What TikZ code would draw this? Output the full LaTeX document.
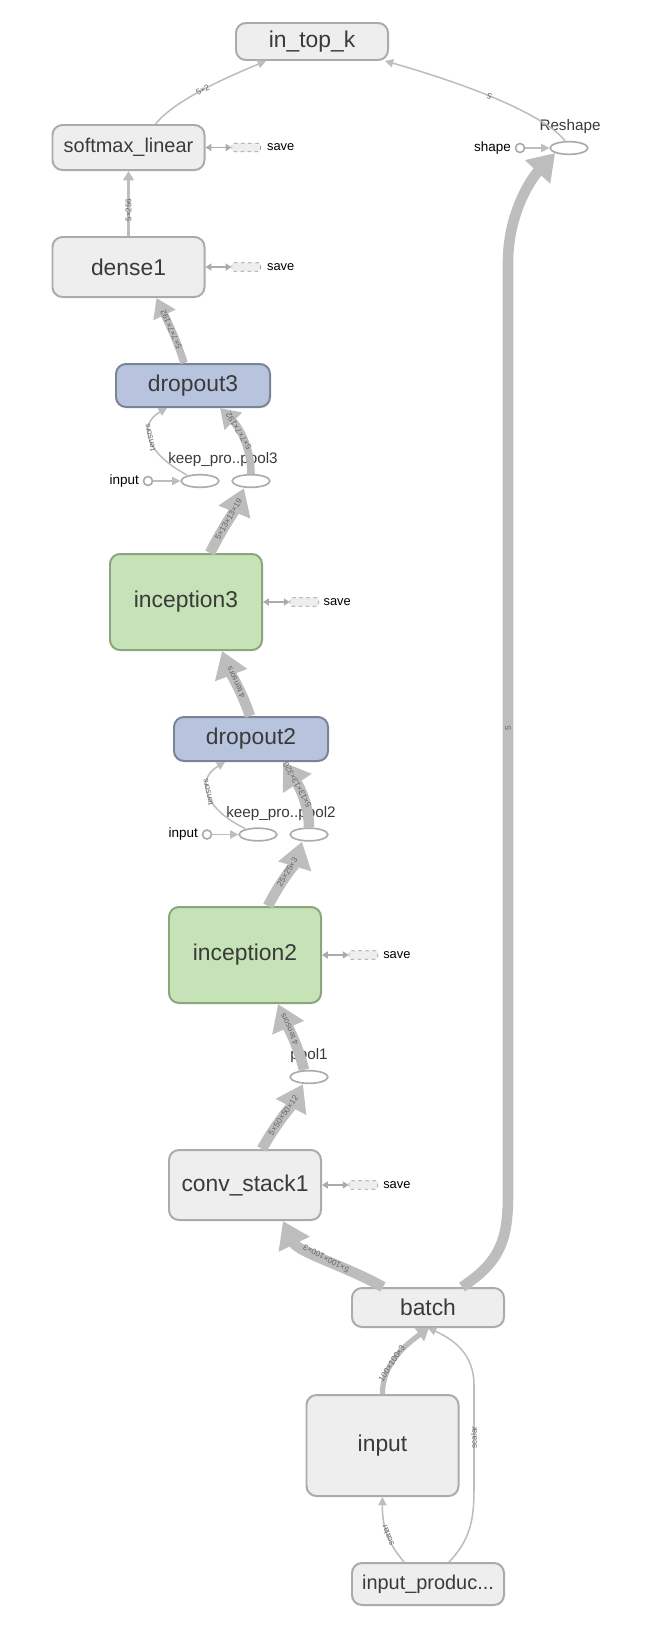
\documentclass[tikz,border=0pt]{standalone}
\usepackage{fontspec}
\setmainfont{Liberation Sans}
\usepackage{tikz}
\usetikzlibrary{shapes.geometric, arrows.meta, positioning, calc}

\definecolor{opfill}{HTML}{EEEEEE}
\definecolor{opline}{HTML}{ABABAB}
\definecolor{dropfill}{HTML}{B8C4DE}
\definecolor{dropline}{HTML}{7B8497}
\definecolor{incfill}{HTML}{C6E2B7}
\definecolor{incline}{HTML}{8BA57C}
\definecolor{edgecol}{HTML}{BDBDBD}
\definecolor{labelcol}{HTML}{3A3A3A}

\tikzstyle{meta} = [rectangle, rounded corners=0.3cm, minimum width=4.56cm, text centered, draw=opline, fill=opfill, line width=1.7pt, text=labelcol, font=\fontsize{19.5}{22}\selectfont]
\tikzstyle{dropbox} = [meta, minimum width=4.62cm, draw=dropline, fill=dropfill]
\tikzstyle{incbox} = [meta, draw=incline, fill=incfill]
\tikzstyle{opnode} = [ellipse, minimum width=1.13cm, minimum height=0.38cm, inner sep=0pt, draw=opline, fill=white, line width=1.4pt]
\tikzstyle{inport} = [circle, minimum size=0.27cm, inner sep=0pt, draw=opline, fill=white, line width=1.4pt]
\tikzstyle{oplabel} = [text=labelcol, font=\fontsize{13}{15}\selectfont, inner sep=0pt]
\tikzstyle{portlabel} = [font=\fontsize{11.5}{13}\selectfont, inner sep=0pt]
\tikzstyle{savebox} = [rectangle, rounded corners=1.5pt, minimum width=0.86cm, minimum height=0.26cm, inner sep=0pt, draw=black!40, dashed, fill=opfill, line width=0.6pt]
\tikzstyle{savetext} = [font=\fontsize{11}{13}\selectfont, inner sep=0pt]
\tikzstyle{saveline} = [draw=opline, line width=1.4pt, {Triangle[length=5pt,width=6pt]}-{Triangle[length=5pt,width=6pt]}]
\tikzstyle{edgethin} = [draw=edgecol, line width=1.3pt, -{Triangle[length=7pt,width=7pt]}]
\tikzstyle{edgewire} = [draw=edgecol, line width=2.6pt, -{Triangle[length=8pt,width=9pt]}]
\tikzstyle{edgesmall} = [draw=edgecol, line width=4.5pt, -{Triangle[length=10pt,width=13pt]}]
\tikzstyle{edgemid} = [draw=edgecol, line width=6.5pt, -{Triangle[length=16pt,width=20pt]}]
\tikzstyle{edgebig} = [draw=edgecol, line width=9pt, -{Triangle[length=22pt,width=28pt]}]
\tikzstyle{elabel} = [font=\fontsize{7}{8}\selectfont, text=black!60, sloped, allow upside down, inner sep=0.5pt]

\begin{document}
\begin{tikzpicture}[x=0.03cm, y=-0.03cm]
\useasboundingbox (0,0) rectangle (655,1647);

% Output layers
\node (intopk) [meta, minimum height=1.11cm] at (312,41.5) {in\_top\_k};
\node (softmax) [meta, minimum height=1.35cm, font=\fontsize{17}{20}\selectfont] at (128.5,147.5) {softmax\_linear};
\node (dense) [meta, minimum height=1.8cm] at (128.5,267) {dense1};

% Reshape
\node (reshape) [opnode] at (569,148) {};
\node (reshapelbl) [oplabel] at (570,127) {Reshape};
\node (shapein) [inport] at (520,148) {};
\node (shapelbl) [portlabel, left=3pt of shapein] {shape};

% Dropout 3
\node (dropthree) [dropbox, minimum height=1.29cm] at (193,385.5) {dropout3};
\node (keepthree) [opnode] at (200,481) {};
\node (poolthree) [opnode] at (251,481) {};
\node (keepthreein) [inport] at (148,481) {};
\node (keepthreelbl) [portlabel, left=3pt of keepthreein] {input};
\node (threelbl) [oplabel] at (223,460) {keep\_pro..pool3};

% Inception 3
\node (incthree) [incbox, minimum height=2.88cm] at (186,602) {inception3};

% Dropout 2
\node (droptwo) [dropbox, minimum height=1.32cm] at (251,739) {dropout2};
\node (keeptwo) [opnode] at (258,834.5) {};
\node (pooltwo) [opnode] at (309,834.5) {};
\node (keeptwoin) [inport] at (207,834.5) {};
\node (keeptwolbl) [portlabel, left=3pt of keeptwoin] {input};
\node (twolbl) [oplabel] at (281,813.5) {keep\_pro..pool2};

% Inception 2 and first stack
\node (inctwo) [incbox, minimum height=2.88cm] at (245,955) {inception2};
\node (poolone) [opnode] at (309,1077) {};
\node (poolonelbl) [oplabel] at (309,1056) {pool1};
\node (conv) [meta, minimum height=2.1cm] at (245,1185) {conv\_stack1};

% Input pipeline
\node (batch) [meta, minimum height=1.17cm] at (428,1307.5) {batch};
\node (input) [meta, minimum height=3.03cm] at (382.5,1445.5) {input};
\node (producer) [meta, minimum height=1.26cm, font=\fontsize{17}{20}\selectfont] at (428,1584) {input\_produc...};

% Save nodes
\node (softsave) [savebox, right=0.78cm of softmax] {};
\node (softsavetxt) [savetext, right=0.18cm of softsave] {save};
\node (densesave) [savebox, right=0.78cm of dense] {};
\node (densesavetxt) [savetext, right=0.18cm of densesave] {save};
\node (incthreesave) [savebox, right=0.8cm of incthree] {};
\node (incthreesavetxt) [savetext, right=0.13cm of incthreesave] {save};
\node (inctwosave) [savebox, right=0.8cm of inctwo] {};
\node (inctwosavetxt) [savetext, right=0.15cm of inctwosave] {save};
\node (convsave) [savebox, right=0.8cm of conv] {};
\node (convsavetxt) [savetext, right=0.15cm of convsave] {save};

\draw [saveline] (softmax) -- (softsave);
\draw [saveline] (dense) -- (densesave);
\draw [saveline] (incthree) -- (incthreesave);
\draw [saveline] (inctwo) -- (inctwosave);
\draw [saveline] (conv) -- (convsave);

% Port arrows
\draw [edgethin] (shapein) -- (reshape);
\draw [edgethin] (keepthreein) -- (keepthree);
\draw [edgethin] (keeptwoin) -- (keeptwo);

% Edges
\draw [edgewire] (dense) -- node[elabel, pos=0.4] {5×256} (softmax);
\draw [edgethin] ($(softmax.north)+(27,0)$) .. controls (175,100) and (225,78) .. node[elabel] {5×2} ($(intopk.south)+(-46,0)$);
\draw [edgethin] ($(reshape.north)+(-4,0)$) .. controls (545,115) and (470,85) .. node[elabel, pos=0.55] {5} ($(intopk.south east)+(-4,0)$);
\draw [edgebig] ($(batch.north)+(34,0)$) .. controls (500,1262) and (508,1240) .. (508,1195) -- node[elabel] {5} (508,262) .. controls (508,215) and (530,180) .. (reshape.south west);
\draw [edgebig] ($(batch.north)+(-45,0)$) .. controls (350,1268) and (298,1252) .. node[elabel] {5×100×100×3} ($(conv.south)+(38,0)$);
\draw [edgebig] ($(conv.north)+(17,0)$) .. controls (275,1125) and (292,1105) .. node[elabel] {5×50×50×12} ($(poolone.south)+(-6,0)$);
\draw [edgebig] ($(poolone.north)+(-5,0)$) .. controls (298,1045) and (287,1025) .. node[elabel, pos=0.6] {4 tensors} ($(inctwo.south)+(33,0)$);
\draw [edgebig] ($(inctwo.north)+(23,0)$) .. controls (280,882) and (296,862) .. node[elabel] {25×25×3} ($(pooltwo.south)+(-7,0)$);
\draw [edgebig] (pooltwo.north) .. controls (309,800) and (295,780) .. node[elabel, pos=0.6] {5×13×13×320} ($(droptwo.south)+(32,0)$);
\draw [edgethin] ($(keeptwo.north)+(-13,1)$) .. controls (208,811) and (193,781) .. node[elabel, pos=0.55] {tensors} ($(droptwo.south)+(-26,0)$);
\draw [edgebig] ($(droptwo.north)+(-1,0)$) .. controls (242,692) and (230,672) .. node[elabel] {4 tensors} ($(incthree.south)+(36,0)$);
\draw [edgebig] ($(incthree.north)+(24,0)$) .. controls (222,529) and (236,508) .. node[elabel] {5×13×13×19} ($(poolthree.south)+(-7,0)$);
\draw [edgemid] (poolthree.north) .. controls (251,446) and (238,426) .. node[elabel, pos=0.6] {5×7×7×192} ($(dropthree.south)+(27,0)$);
\draw [edgethin] ($(keepthree.north)+(-13,1)$) .. controls (150,456) and (135,426) .. node[elabel, pos=0.55] {tensors} ($(dropthree.south)+(-26,0)$);
\draw [edgemid] ($(dropthree.north)+(-9,0)$) .. controls (177,340) and (166,318) .. node[elabel] {5×7×7×192} ($(dense.south)+(28,0)$);
\draw [edgesmall] (input.north) .. controls (382,1365) and (405,1345) .. node[elabel, pos=0.4] {100×100×3} ($(batch.south)+(1,0)$);
\draw [edgethin] ($(producer.north)+(-24,0)$) .. controls (390,1545) and (382,1530) .. node[elabel] {scalar} (input.south);
\draw [edgethin] ($(producer.north)+(21,0)$) .. controls (470,1540) and (474,1520) .. (474,1490) -- node[elabel] {scalar} (474,1385) .. controls (474,1355) and (455,1340) .. (batch.south);

\end{tikzpicture}
\end{document}
